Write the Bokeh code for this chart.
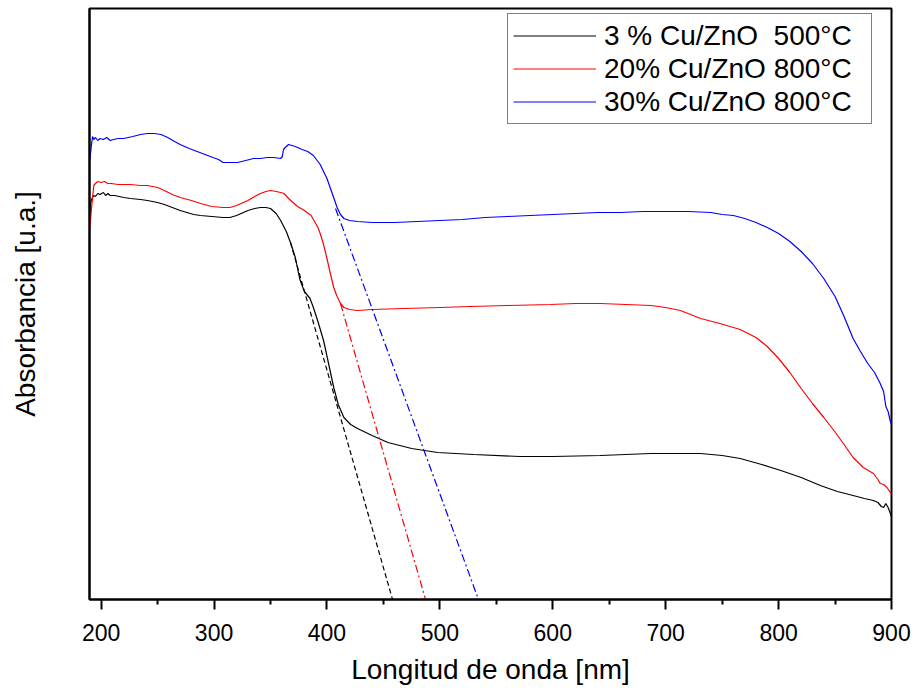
from bokeh.plotting import figure
from bokeh.models import Range1d, FixedTicker, Legend, LegendItem
from bokeh.embed import file_html
from bokeh.resources import INLINE

# ---------------- data ----------------
x_ticks = [200, 300, 400, 500, 600, 700, 800, 900]
x_minor = [250, 350, 450, 550, 650, 750, 850]

labels = ["3 % Cu/ZnO  500°C", "20% Cu/ZnO 800°C", "30% Cu/ZnO 800°C"]

wl_3 = [189.7, 190.5, 191.5, 193.3, 195, 197, 199, 202, 204, 206, 208, 212, 220, 226, 235, 241,
        250, 256, 263, 270, 276, 282, 288, 298, 308, 314, 320, 326, 330, 336, 341, 346, 350, 355,
        359, 364, 368, 372, 376, 380, 385, 388, 392, 397, 402, 406, 410, 415, 421, 427, 440,
        454, 475, 498, 530, 571, 600, 642, 687, 731, 750, 766, 785, 802, 820, 837, 852, 866,
        876, 884, 888, 891, 893, 895, 897, 899, 900]
ab_3 = [3.82, 3.95, 4.00, 4.04, 4.03, 4.06, 4.05, 4.07, 4.04, 4.06, 4.04, 4.04, 4.02, 4.01, 4.00, 3.99,
        3.97, 3.95, 3.92, 3.89, 3.87, 3.85, 3.84, 3.83, 3.82, 3.82, 3.84, 3.87, 3.89, 3.91, 3.92, 3.92, 3.91, 3.86,
        3.79, 3.68, 3.56, 3.42, 3.20, 3.08, 3.01, 2.92, 2.78, 2.59, 2.33, 2.12, 1.95, 1.82, 1.75, 1.71, 1.64,
        1.57, 1.51, 1.47, 1.45, 1.43, 1.43, 1.44, 1.46, 1.46, 1.44, 1.41, 1.35, 1.29, 1.22, 1.14, 1.08, 1.04,
        1.01, 0.99, 0.97, 0.93, 0.92, 0.96, 0.92, 0.86, 0.83]

wl_20 = [190.0, 191, 192.4, 193.5, 195, 197, 200, 203, 206, 209, 215, 226, 235, 241, 250, 256, 263,
         270, 280, 288, 298, 308, 314, 320, 330, 336, 341, 346, 350, 355, 359, 362, 366, 370, 374,
         380, 386, 389, 392, 394, 397, 400, 403, 406, 409, 412, 415, 420, 427, 440, 468, 500, 527,
         560, 598, 620, 642, 665, 687, 700, 713, 722, 731, 748, 766, 780, 790, 800, 810, 820, 830,
         840, 849, 858, 866, 875, 884, 888, 890, 893, 896, 899, 900]
ab_20 = [3.70, 3.85, 4.02, 4.14, 4.16, 4.18, 4.17, 4.18, 4.16, 4.16, 4.15, 4.15, 4.14, 4.14, 4.12, 4.09, 4.05,
         4.02, 3.99, 3.96, 3.93, 3.92, 3.92, 3.94, 3.99, 4.03, 4.06, 4.08, 4.09, 4.08, 4.07, 4.06, 4.01, 3.97, 3.93,
         3.89, 3.84, 3.78, 3.72, 3.66, 3.55, 3.41, 3.26, 3.12, 3.03, 2.96, 2.92, 2.90, 2.89, 2.90, 2.91, 2.92, 2.93,
         2.94, 2.95, 2.96, 2.96, 2.95, 2.94, 2.92, 2.89, 2.85, 2.81, 2.76, 2.70, 2.62, 2.53, 2.41, 2.27, 2.11, 1.96,
         1.82, 1.69, 1.55, 1.42, 1.32, 1.26, 1.20, 1.16, 1.15, 1.12, 1.07, 1.05]

wl_30 = [190.0, 191.5, 192.4, 193.5, 195, 197, 199, 202, 205, 208, 211, 215, 220, 228, 235, 241, 247,
         253, 259, 265, 270, 278, 285, 292, 299, 304, 308, 314, 321, 328, 335, 341, 347, 353, 359,
         360.5, 361.5, 363, 366, 372, 378, 383, 388, 394, 400, 405, 409, 412, 415, 420, 427, 440,
         460, 480, 500, 520, 540, 560, 580, 600, 620, 640, 660, 680, 700, 720, 740, 750, 760, 770,
         780, 790, 800, 810, 820, 830, 840, 850, 858, 866, 872, 879, 885, 890, 893, 895, 897, 899, 900]
ab_30 = [4.40, 4.55, 4.63, 4.60, 4.62, 4.59, 4.61, 4.60, 4.62, 4.59, 4.60, 4.61, 4.61, 4.63, 4.65, 4.66, 4.66,
         4.65, 4.62, 4.58, 4.55, 4.51, 4.48, 4.45, 4.42, 4.40, 4.37, 4.37, 4.37, 4.39, 4.41, 4.41, 4.42, 4.42, 4.41,
         4.43, 4.50, 4.52, 4.55, 4.53, 4.50, 4.48, 4.44, 4.35, 4.21, 4.05, 3.92, 3.85, 3.81, 3.79, 3.78, 3.77,
         3.77, 3.78, 3.79, 3.80, 3.82, 3.83, 3.84, 3.85, 3.86, 3.87, 3.87, 3.88, 3.88, 3.88, 3.87, 3.85, 3.84, 3.81,
         3.77, 3.72, 3.66, 3.58, 3.48, 3.36, 3.21, 3.03, 2.83, 2.61, 2.49, 2.36, 2.27, 2.16, 2.08, 1.93, 1.88, 1.78, 1.75]

# band-edge tangent lines
tan_3_x = [367.7, 458.1]
tan_3_y = [3.57, 0.0]
tan_20_x = [412.0, 487.3]
tan_20_y = [2.96, 0.0]
tan_30_x = [407.6, 534.2]
tan_30_y = [3.91, 0.0]

FONT = "Liberation Sans"

p = figure(width=915, height=694, output_backend="svg", toolbar_location=None,
           x_range=Range1d(189.7, 900), y_range=Range1d(0, 5.91),
           min_border_left=89, min_border_right=24, min_border_top=8, min_border_bottom=95)

p.background_fill_color = "white"
p.border_fill_color = "white"
p.outline_line_color = "black"
p.outline_line_width = 2
p.xgrid.visible = False
p.ygrid.visible = False

# x axis
p.xaxis.ticker = FixedTicker(ticks=x_ticks, minor_ticks=x_minor)
p.xaxis.axis_line_width = 2
p.xaxis.axis_line_color = "black"
p.xaxis.major_tick_line_color = "black"
p.xaxis.major_tick_line_width = 2
p.xaxis.major_tick_out = 10
p.xaxis.major_tick_in = 0
p.xaxis.minor_tick_line_color = "black"
p.xaxis.minor_tick_line_width = 2
p.xaxis.minor_tick_out = 5
p.xaxis.minor_tick_in = 0
p.xaxis.major_label_text_font = FONT
p.xaxis.major_label_text_font_size = "23px"
p.xaxis.major_label_text_color = "black"
p.xaxis.major_label_standoff = 14
p.xaxis.axis_label = "Longitud de onda [nm]"
p.xaxis.axis_label_text_font = FONT
p.xaxis.axis_label_text_font_size = "28px"
p.xaxis.axis_label_text_font_style = "normal"
p.xaxis.axis_label_text_color = "black"
p.xaxis.axis_label_standoff = 10

# y axis (no ticks)
p.yaxis.ticker = FixedTicker(ticks=[], minor_ticks=[])
p.yaxis.axis_line_width = 2
p.yaxis.axis_line_color = "black"
p.yaxis.major_tick_out = 0
p.yaxis.major_tick_in = 0
p.yaxis.minor_tick_out = 0
p.yaxis.minor_tick_in = 0
p.yaxis.axis_label = "Absorbancia [u.a.]"
p.yaxis.axis_label_text_font = FONT
p.yaxis.axis_label_text_font_size = "28px"
p.yaxis.axis_label_text_font_style = "normal"
p.yaxis.axis_label_text_color = "black"
p.yaxis.axis_label_standoff = 49

# curves
r3 = p.line(wl_3, ab_3, line_color="black", line_width=1.2)
r20 = p.line(wl_20, ab_20, line_color="red", line_width=1.2)
r30 = p.line(wl_30, ab_30, line_color="blue", line_width=1.2)

p.line(tan_3_x, tan_3_y, line_color="black", line_width=1.2, line_dash="5 3")
p.line(tan_20_x, tan_20_y, line_color="red", line_width=1.2, line_dash="8 3 2 3")
p.line(tan_30_x, tan_30_y, line_color="blue", line_width=1.2, line_dash="8 3 2 3")

legend = Legend(items=[LegendItem(label=labels[0], renderers=[r3]),
                       LegendItem(label=labels[1], renderers=[r20]),
                       LegendItem(label=labels[2], renderers=[r30])],
                location=(418, 475))
legend.border_line_color = "black"
legend.border_line_width = 1
legend.background_fill_color = "white"
legend.background_fill_alpha = 1
legend.label_text_font = FONT
legend.label_text_font_size = "28px"
legend.label_text_color = "black"
legend.glyph_width = 83
legend.glyph_height = 33
legend.label_height = 33
legend.label_width = 262
legend.label_standoff = 8
legend.padding = 5
legend.spacing = 0
legend.margin = 0
p.add_layout(legend)

open("out.html", "w").write(file_html(p, INLINE))
